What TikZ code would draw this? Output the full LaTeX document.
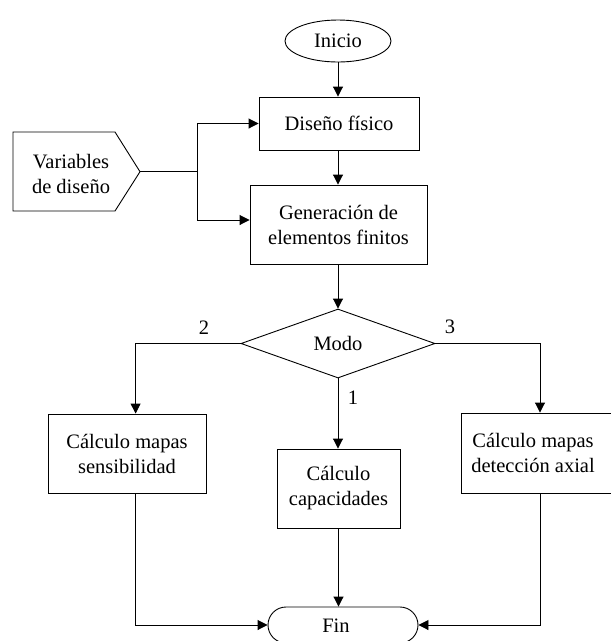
\documentclass[tikz,border=0pt]{standalone}
\usepackage{fontspec}
\setmainfont{Liberation Serif}
\usetikzlibrary{shapes.geometric,shapes.misc,arrows.meta,calc}
\begin{document}
\begin{tikzpicture}[x=1pt,y=-1pt,
  every node/.style={font=\fontsize{20.5}{25}\selectfont, inner sep=0pt},
  box/.style={draw, rectangle, align=center, line width=0.9pt},
  arr/.style={-{Triangle[length=10pt,width=10pt]}, line width=0.9pt},
  ln/.style={line width=0.9pt},
  lbl/.style={}]
\useasboundingbox (0,0) rectangle (611,641);

% nodes
\node[draw, ellipse, line width=0.9pt, minimum width=106pt, minimum height=42pt] (inicio) at (338,41) {Inicio};
\node[box, minimum width=160pt, minimum height=53pt] (diseno) at (339,123.5) {Diseño físico};
\node[box, minimum width=177pt, minimum height=79pt] (gen) at (338.5,224.5) {Generación de\\elementos finitos};
\draw[ln] (13,132) -- (115,132) -- (140,171.7) -- (115,211) -- (13,211) -- cycle;
\node[align=center] (var) at (71,174) {Variables\\de diseño};
\coordinate (vartip) at (140,171.7);
\coordinate (junc) at (197,171.7);
\node[draw, diamond, line width=0.9pt, minimum width=194pt, minimum height=69pt] (modo) at (338,343.5) {Modo};
\node[box, minimum width=158pt, minimum height=79pt] (sens) at (127,453.5) {Cálculo mapas\\sensibilidad};
\node[box, minimum width=123pt, minimum height=79pt] (cap) at (338.5,488.5) {Cálculo\\capacidades};
\node[box, minimum width=153pt, minimum height=80pt] (det) at (537.5,453) {};
\node[align=center] (dettxt) at (533,453) {Cálculo mapas\\detección axial};
\node[draw, rounded rectangle, line width=0.9pt, minimum width=150pt, minimum height=36pt] (fin) at (343,625) {};
\node (fintxt) at (336,626) {Fin};

% labels
\node[lbl] (l2) at (204,328) {2};
\node[lbl] (l3) at (450,327) {3};
\node[lbl] (l1) at (353,398) {1};

% connectors
\draw[arr] (inicio.south) -- (inicio.south |- diseno.north);
\draw[arr] (diseno.south -| inicio.south) -- (inicio.south |- gen.north);
\draw[ln] (vartip) -- (junc);
\draw[arr] (junc) |- (diseno.west);
\draw[arr] (junc) |- ([yshift=4.5pt]gen.west);
\draw[arr] (gen.south -| modo.north) -- (modo.north);
\draw[arr] (modo.west) -| ([xshift=8.6pt]sens.north);
\draw[arr] (modo.east) -| ([xshift=2.5pt]det.north);
\draw[arr] (modo.south) -- (modo.south |- cap.north);
\draw[arr] ([xshift=8.6pt]sens.south) |- (fin.west);
\draw[arr] ([xshift=2.5pt]det.south) |- (fin.east);
\draw[arr] (cap.south) -- (cap.south |- fin.north);
\end{tikzpicture}
\end{document}
